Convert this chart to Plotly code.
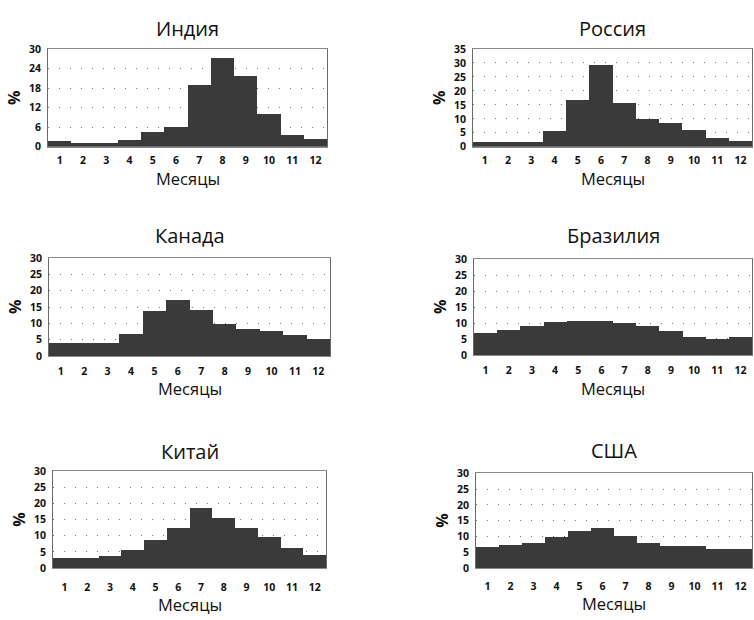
import plotly.graph_objects as go

months = list(range(1, 13))
month_labels = [str(m) for m in months]

countries = ["Индия", "Россия", "Канада", "Бразилия", "Китай", "США"]

india = [1.7, 1.3, 1.3, 2.1, 4.4, 6.1, 19.0, 27.3, 21.7, 9.9, 3.7, 2.4]
russia = [1.8, 1.8, 1.8, 5.8, 16.9, 29.4, 15.7, 10.0, 8.5, 6.0, 3.1, 2.0]
canada = [3.8, 3.8, 3.8, 6.7, 13.6, 17.0, 13.9, 9.8, 8.1, 7.7, 6.3, 5.0]
brazil = [6.8, 7.9, 9.0, 10.2, 10.7, 10.7, 9.9, 9.1, 7.4, 5.7, 5.1, 5.7]
china = [3.1, 3.1, 3.5, 5.4, 8.6, 12.4, 18.4, 15.5, 12.4, 9.6, 6.2, 4.1]
usa = [6.5, 7.2, 7.9, 9.6, 11.6, 12.6, 10.0, 8.0, 6.9, 6.9, 6.1, 6.1]

series = [india, russia, canada, brazil, china, usa]
y_max = [30, 35, 30, 30, 30, 30]
y_step = [6, 5, 5, 5, 5, 5]

x_title = "Месяцы"
y_title = "%"

W, H = 754, 620
# plot boxes in pixels: (x0, x1, ytop, ybottom)
boxes = [
    (48, 327, 43, 143),
    (473, 752, 43, 143),
    (49, 330, 257, 357),
    (474, 752, 258, 356),
    (53, 326, 475, 574),
    (476, 752, 477, 574),
]
title_y = [21.5, 21.5, 234, 234, 454.5, 454]
xlab_y = [175.5, 175.5, 390, 390, 611.5, 610.5]
tick_len = [4, 4, 5, 5, 9, 8]

FONT = "Open Sans"
fig = go.Figure()
layout = dict(
    width=W, height=H,
    margin=dict(l=0, r=0, t=0, b=0),
    paper_bgcolor="white", plot_bgcolor="white",
    showlegend=False,
    font=dict(family=FONT, color="#111"),
    annotations=[],
    bargap=0,
)

for i, (name, vals, ym, ys, box) in enumerate(zip(countries, series, y_max, y_step, boxes)):
    n = "" if i == 0 else str(i + 1)
    xa, ya = "x" + n, "y" + n
    x0, x1, yt, yb = box
    fig.add_trace(go.Bar(
        x=months, y=vals, width=1.0,
        marker=dict(color="#3a3a3a", line=dict(width=0)),
        xaxis=xa, yaxis=ya, hoverinfo="x+y",
    ))
    layout["xaxis" + n] = dict(
        domain=[x0 / W, x1 / W], anchor=ya,
        range=[0.5, 12.5], tickmode="array", tickvals=months, ticktext=month_labels,
        showgrid=False, zeroline=False,
        showline=True, linecolor="#8a8a8a", linewidth=1, mirror=True,
        ticks="outside", ticklen=tick_len[i], tickcolor="rgba(0,0,0,0)",
        tickfont=dict(size=10.5, family=FONT, color="#111", weight="bold"),
        fixedrange=True,
    )
    layout["yaxis" + n] = dict(
        domain=[1 - yb / H, 1 - yt / H], anchor=xa,
        range=[0, ym], tickmode="linear", tick0=0, dtick=ys,
        showgrid=True, gridcolor="#777", gridwidth=1, griddash="1px,10px",
        zeroline=False,
        showline=True, linecolor="#6a6a6a", linewidth=1, mirror=True,
        ticks="outside", ticklen=4, tickcolor="rgba(0,0,0,0)",
        tickfont=dict(size=10.5, family=FONT, color="#111", weight="bold"),
        fixedrange=True,
    )
    cx = (x0 + x1) / 2 / W
    layout["annotations"].append(dict(
        text=name, x=cx, y=1 - title_y[i] / H, xref="paper", yref="paper",
        xanchor="center", yanchor="middle", showarrow=False,
        font=dict(size=20, family=FONT, color="#111"),
    ))
    layout["annotations"].append(dict(
        text=x_title, x=cx, y=1 - xlab_y[i] / H, xref="paper", yref="paper",
        xanchor="center", yanchor="middle", showarrow=False,
        font=dict(size=16.5, family=FONT, color="#111"),
    ))
    layout["annotations"].append(dict(
        text=y_title, x=(x0 - 34) / W, y=1 - (yt + yb) / 2 / H, xref="paper", yref="paper",
        xanchor="center", yanchor="middle", showarrow=False, textangle=-90,
        font=dict(size=16, family=FONT, color="#111", weight="bold"),
    ))

fig.update_layout(**layout)
fig.write_html(
    "out.html",
    config={"displayModeBar": False},
    post_script="document.body.style.margin='0';document.body.style.overflow='hidden';",
)
